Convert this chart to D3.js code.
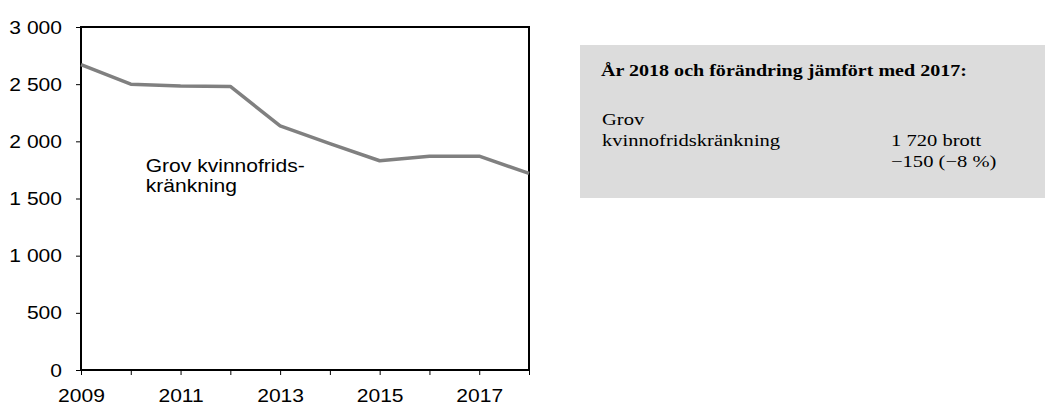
<!DOCTYPE html>
<html>
<head>
<meta charset="utf-8">
<script src="https://cdn.jsdelivr.net/npm/d3@7"></script>
<style>
  body { margin: 0; background: #fff; }
  svg { display: block; }
  .axis path, .axis line { stroke: #000; }
  .axis text { font-family: Arial, "Liberation Sans", sans-serif; font-size: 18px; fill: #000; }
</style>
</head>
<body>
<svg id="chart" width="1045" height="405"></svg>
<script>
// data
var years = [2009, 2010, 2011, 2012, 2013, 2014, 2015, 2016, 2017, 2018]
var values = [2670, 2500, 2485, 2480, 2135, 1980, 1830, 1870, 1870, 1720]
var yTicks = [0, 500, 1000, 1500, 2000, 2500, 3000]
var xLabelYears = [2009, 2011, 2013, 2015, 2017]
var seriesLabel = ['Grov kvinnofrids-', 'kränkning']
var boxTitle = 'År 2018 och förändring jämfört med 2017:'
var boxName = ['Grov', 'kvinnofridskränkning']
var boxValues = ['1 720 brott', '−150 (−8 %)']

// the reference is a little stretched sideways, so text gets widened to match
var stretch = 1.17
var serifStretch = 1.21

var margin = { top: 27, left: 81, right: 516, bottom: 35 }
var width = 1045 - margin.left - margin.right
var height = 405 - margin.top - margin.bottom

var svg = d3.select('#chart')
var g = svg.append('g')
  .attr('transform', 'translate(' + margin.left + ',' + margin.top + ')')

var xPositionScale = d3.scaleLinear()
  .domain([2009, 2018])
  .range([0, width])

var yPositionScale = d3.scaleLinear()
  .domain([0, 3000])
  .range([height, 0])

// frame
g.append('rect')
  .attr('width', width)
  .attr('height', height)
  .attr('fill', 'none')
  .attr('stroke', '#000')
  .attr('stroke-width', 2)

var line = d3.line()
  .x(function(d, i) { return xPositionScale(years[i]) })
  .y(function(d) { return yPositionScale(d) })

g.append('path')
  .datum(values)
  .attr('d', line)
  .attr('fill', 'none')
  .attr('stroke', '#808080')
  .attr('stroke-width', 3.5)
  .attr('stroke-linejoin', 'round')

// axes
var yAxis = d3.axisLeft(yPositionScale)
  .tickValues(yTicks)
  .tickSize(5)
  .tickFormat(function(d) { return d3.format(',')(d).replace(',', ' ') })

g.append('g')
  .attr('class', 'axis y-axis')
  .call(yAxis)
  .call(function(a) { a.select('.domain').remove() })
  .selectAll('text')
  .attr('x', null)
  .attr('dy', '0.34em')
  .attr('transform', 'translate(-19,0) scale(' + stretch + ',1)')

var xAxis = d3.axisBottom(xPositionScale)
  .tickValues(years)
  .tickSize(5)
  .tickFormat(function(d) { return xLabelYears.indexOf(d) >= 0 ? d : '' })

g.append('g')
  .attr('class', 'axis x-axis')
  .attr('transform', 'translate(0,' + height + ')')
  .call(xAxis)
  .call(function(a) { a.select('.domain').remove() })
  .selectAll('text')
  .attr('y', null)
  .attr('dy', null)
  .attr('transform', 'translate(0,32) scale(' + stretch + ',1)')

// series label inside plot
seriesLabel.forEach(function(t, i) {
  g.append('text')
    .attr('transform', 'translate(' + (xPositionScale(2010.3)) + ',' + (yPositionScale(1732) + i * 20) + ') scale(' + stretch + ',1)')
    .attr('font-family', 'Arial, "Liberation Sans", sans-serif')
    .attr('font-size', 18)
    .text(t)
})

// info box
var box = svg.append('g').attr('transform', 'translate(580,45)')
box.append('rect')
  .attr('width', 465)
  .attr('height', 153)
  .attr('fill', '#dcdcdc')

var serif = '"Liberation Serif", "DejaVu Serif", serif'
box.append('text')
  .attr('transform', 'translate(21,31) scale(1.18,1)')
  .attr('font-family', serif)
  .attr('font-weight', 'bold')
  .attr('font-size', 17)
  .text(boxTitle)

boxName.forEach(function(t, i) {
  box.append('text')
    .attr('transform', 'translate(22,' + (80 + i * 21) + ') scale(' + serifStretch + ',1)')
    .attr('font-family', serif)
    .attr('font-size', 17)
    .text(t)
})

boxValues.forEach(function(t, i) {
  box.append('text')
    .attr('transform', 'translate(311,' + (101 + i * 21) + ') scale(' + serifStretch + ',1)')
    .attr('font-family', serif)
    .attr('font-size', 17)
    .text(t)
})
</script>
</body>
</html>
